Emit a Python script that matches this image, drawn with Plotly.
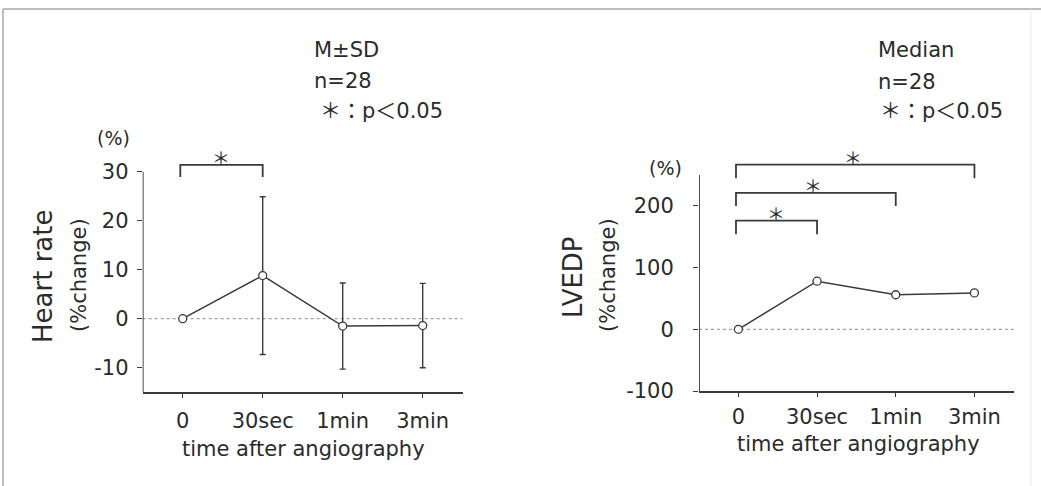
import plotly.graph_objects as go

# ---------------- data ----------------
categories = ["0", "30sec", "1min", "3min"]
hr_mean = [0, 8.8, -1.5, -1.4]
hr_sd = [0, 16.1, 8.8, 8.6]
lvedp_median = [0, 78, 56, 59]

hr_ticks = [-10, 0, 10, 20, 30]
hr_ticklabels = ["-10", "0", "10", "20", "30"]
lvedp_ticks = [-100, 0, 100, 200]
lvedp_ticklabels = ["-100", "0", "100", "200"]

# significance brackets: (from index, to index, bar level, leg bottom)
hr_brackets = [(0, 1, 31.4, 28.9)]
lvedp_brackets = [(0, 1, 176, 154), (0, 2, 221, 200), (0, 3, 267, 245)]

W, H = 1041, 486
FONT = "DejaVu Sans, Noto Sans CJK JP"
TXT = "#2b2b2b"
LINE = "#3a3a3a"

def px(x):
    return x / W

def py(y):
    return 1 - y / H

xi = list(range(len(categories)))

fig = go.Figure()
fig.add_trace(go.Scatter(
    x=xi, y=hr_mean, mode="lines+markers", xaxis="x", yaxis="y",
    line=dict(color=LINE, width=1.5),
    marker=dict(symbol="circle", size=8, color="white", line=dict(color=LINE, width=1.3)),
    error_y=dict(type="data", array=hr_sd, visible=True, color=LINE, thickness=1.4, width=3),
    showlegend=False, hoverinfo="skip"))
fig.add_trace(go.Scatter(
    x=xi, y=lvedp_median, mode="lines+markers", xaxis="x2", yaxis="y2",
    line=dict(color=LINE, width=1.5),
    marker=dict(symbol="circle", size=8, color="white", line=dict(color=LINE, width=1.3)),
    showlegend=False, hoverinfo="skip"))

def add_brackets(brackets, xa, ya):
    for a, b, top, leg in brackets:
        fig.add_trace(go.Scatter(
            x=[a - 0.03, a - 0.03, b, b], y=[leg, top, top, leg], mode="lines",
            xaxis=xa, yaxis=ya, line=dict(color=LINE, width=1.8),
            showlegend=False, hoverinfo="skip"))

add_brackets(hr_brackets, "x", "y")
add_brackets(lvedp_brackets, "x2", "y2")

axis_font = dict(family=FONT, size=21, color=TXT)

fig.update_layout(
    width=W, height=H, autosize=False,
    margin=dict(l=0, r=0, t=0, b=0, pad=0, autoexpand=False),
    paper_bgcolor="white", plot_bgcolor="white",
    xaxis=dict(domain=[px(142.7), px(462.7)], range=[-0.5, 3.5],
               tickvals=xi, ticktext=categories, ticks="outside", ticklen=4,
               tickcolor=LINE, showline=True, linecolor=LINE, linewidth=1.8,
               showgrid=False, zeroline=False, tickfont=axis_font,
               ticklabelstandoff=5, anchor="y", fixedrange=True, automargin=False),
    yaxis=dict(domain=[py(392.2), py(152.1)], range=[-15, 34],
               tickvals=hr_ticks, ticktext=hr_ticklabels, ticks="outside", ticklen=5,
               tickcolor=LINE, showline=False, showgrid=False, zeroline=False,
               tickfont=axis_font, ticklabelstandoff=4, anchor="x", fixedrange=True,
               automargin=False),
    xaxis2=dict(domain=[px(699.0), px(1013.8)], range=[-0.5, 3.5],
                tickvals=xi, ticktext=categories, ticks="outside", ticklen=4,
                tickcolor=LINE, showline=True, linecolor=LINE, linewidth=1.8,
                showgrid=False, zeroline=False, tickfont=axis_font,
                ticklabelstandoff=2, anchor="y2", fixedrange=True, automargin=False),
    yaxis2=dict(domain=[py(391.0), py(153.45)], range=[-100, 285],
                tickvals=lvedp_ticks, ticktext=lvedp_ticklabels, ticks="outside", ticklen=5,
                tickcolor=LINE, showline=False, showgrid=False, zeroline=False,
                tickfont=axis_font, ticklabelstandoff=15, anchor="x2", fixedrange=True,
                automargin=False),
)

shapes = []
shapes.append(dict(type="line", xref="x", yref="y", x0=-0.5, x1=-0.5, y0=-15, y1=30,
                   line=dict(color=LINE, width=1.8)))
shapes.append(dict(type="line", xref="x2", yref="y2", x0=-0.5, x1=-0.5, y0=-100, y1=250,
                   line=dict(color=LINE, width=1.8)))
shapes.append(dict(type="line", xref="x", yref="y", x0=-0.5, x1=3.5, y0=0, y1=0,
                   line=dict(color="#8a8a8a", width=1, dash="dot"), layer="below"))
shapes.append(dict(type="line", xref="x2", yref="y2", x0=-0.5, x1=3.5, y0=0, y1=0,
                   line=dict(color="#8a8a8a", width=1, dash="dot"), layer="below"))
shapes.append(dict(type="line", xref="paper", yref="paper", x0=px(3), x1=1, y0=py(9), y1=py(9),
                   line=dict(color="#a8a8a8", width=1.5)))
shapes.append(dict(type="line", xref="paper", yref="paper", x0=px(3), x1=px(3), y0=0, y1=py(9),
                   line=dict(color="#a8a8a8", width=1.5)))
shapes.append(dict(type="line", xref="paper", yref="paper", x0=px(1031), x1=px(1031), y0=0, y1=py(9),
                   line=dict(color="#ececec", width=1)))
fig.update_layout(shapes=shapes)

ann = []
def text(x, y, s, size=21, angle=0, xanchor="center", yanchor="middle"):
    ann.append(dict(x=px(x), y=py(y), xref="paper", yref="paper", text=s, showarrow=False,
                    textangle=angle, xanchor=xanchor, yanchor=yanchor,
                    font=dict(family=FONT, size=size, color=TXT)))

text(43, 277, "Heart rate", size=26, angle=-90)
text(79, 275, "(%change)", size=21, angle=-90)
text(113, 138, "(%)", size=19)
text(303, 449, "time after angiography", size=21)
text(312, 50, "M±SD", size=21, xanchor="left")
text(312, 81, "n=28", size=21, xanchor="left")
text(318, 111, "＊：p＜0.05", size=21, xanchor="left")

text(573, 277, "LVEDP", size=26, angle=-90)
text(608, 275, "(%change)", size=21, angle=-90)
text(665, 168, "(%)", size=19)
text(858, 444, "time after angiography", size=21)
text(876, 50, "Median", size=21, xanchor="left")
text(876, 82, "n=28", size=21, xanchor="left")
text(878, 111, "＊：p＜0.05", size=21, xanchor="left")

for (xv, yv, xa, ya) in [(0.48, 33.0, "x", "y"),
                         (0.48, 188, "x2", "y2"), (0.95, 234, "x2", "y2"), (1.46, 279, "x2", "y2")]:
    ann.append(dict(x=xv, y=yv, xref=xa, yref=ya, text="＊", showarrow=False,
                    xanchor="center", yanchor="middle",
                    font=dict(family="Noto Sans CJK JP", size=18, color=TXT)))

fig.update_layout(annotations=ann)

fig.write_html("out.html", post_script="document.body.style.margin='0';",
               config={"displayModeBar": False})
